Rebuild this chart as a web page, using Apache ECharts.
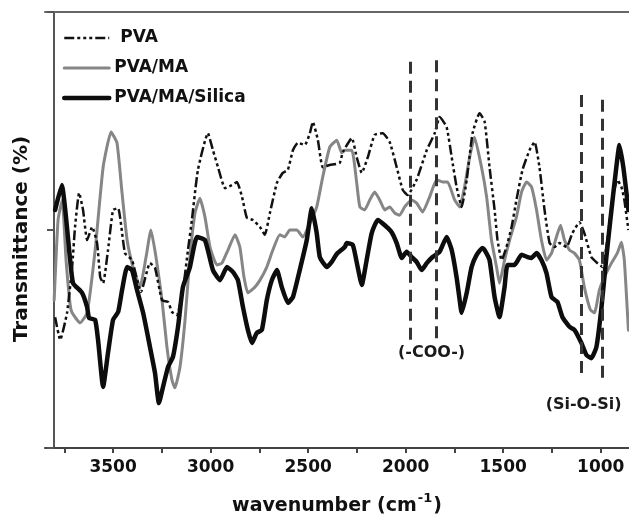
<!DOCTYPE html>
<html>
<head>
<meta charset="utf-8">
<script src="https://cdn.jsdelivr.net/npm/echarts@6/dist/echarts.min.js"></script>
<style>
  html, body { margin: 0; padding: 0; background: #fff; }
  #chart { width: 629px; height: 520px; }
</style>
</head>
<body>
<div id="chart"></div>
<script>
// FTIR spectra: [wavenumber (cm-1), transmittance (arb. %)]
const pvaPoints = [
  [3797,30.0],[3771,24.8],[3736,31.0],[3710,41.5],[3695,50.7],[3674,58.5],[3654,54.6],[3633,47.7],
  [3607,50.7],[3582,47.0],[3566,39.2],[3551,37.8],[3526,45.4],[3500,54.6],[3474,55.0],[3439,44.7],
  [3403,43.1],[3357,35.8],[3311,42.4],[3285,41.3],[3249,33.9],[3218,33.5],[3198,31.2],[3173,30.5],
  [3142,36.2],[3116,45.4],[3096,52.3],[3065,63.8],[3014,72.2],[2988,68.3],[2962,64.4],[2926,59.6],
  [2891,60.3],[2865,61.0],[2839,57.6],[2814,52.8],[2783,52.3],[2747,50.7],[2722,48.9],[2696,53.9],
  [2660,60.8],[2630,63.1],[2604,63.8],[2578,68.3],[2553,70.0],[2517,69.5],[2491,72.2],[2476,74.8],
  [2450,70.6],[2425,64.4],[2389,64.9],[2338,65.4],[2322,67.9],[2276,71.1],[2251,66.7],[2225,63.1],
  [2194,66.7],[2159,71.8],[2118,72.2],[2082,70.2],[2046,64.4],[2015,59.2],[1990,58.0],[1944,61.5],
  [1892,68.3],[1851,72.2],[1826,75.9],[1790,73.6],[1764,66.7],[1739,59.9],[1713,55.3],[1687,61.5],
  [1657,72.2],[1621,76.8],[1595,74.8],[1570,64.4],[1544,54.6],[1529,47.7],[1508,43.1],[1483,46.1],
  [1457,50.7],[1432,56.9],[1401,63.8],[1365,68.3],[1339,70.2],[1314,64.4],[1288,54.6],[1262,47.0],
  [1237,46.1],[1211,47.0],[1175,46.1],[1145,49.3],[1109,51.8],[1084,49.3],[1048,43.8],[1017,42.4],
  [991,41.5],[966,47.7],[940,56.9],[915,61.5],[894,59.9],[879,56.9],[858,50.0]
];

const pvaMaPoints = [
  [3802,33.9],[3782,52.3],[3761,56.9],[3741,43.1],[3720,32.8],[3710,31.0],[3669,28.7],[3633,31.0],
  [3592,45.4],[3551,64.4],[3510,72.5],[3480,70.0],[3454,58.5],[3428,47.7],[3398,41.5],[3362,36.9],
  [3331,43.8],[3306,50.0],[3280,43.8],[3249,33.9],[3224,23.2],[3198,15.6],[3183,13.8],[3157,18.6],
  [3131,29.4],[3106,43.8],[3080,53.9],[3055,57.3],[3029,53.0],[3003,46.1],[2968,42.0],[2942,42.4],
  [2911,45.4],[2875,48.9],[2850,46.1],[2829,39.2],[2809,35.6],[2773,36.9],[2747,38.5],[2712,41.5],
  [2681,45.4],[2645,48.9],[2620,48.4],[2594,50.0],[2558,50.0],[2527,48.4],[2491,51.6],[2456,55.3],
  [2425,62.2],[2389,69.0],[2353,70.6],[2328,67.7],[2312,68.3],[2276,68.3],[2251,60.8],[2235,55.3],
  [2210,54.6],[2184,56.9],[2159,58.7],[2133,56.9],[2107,54.6],[2082,55.3],[2056,53.9],[2031,53.4],
  [2005,55.3],[1969,56.9],[1944,56.2],[1913,54.1],[1877,57.6],[1841,61.5],[1810,61.0],[1785,61.0],
  [1749,56.9],[1723,55.3],[1698,59.9],[1672,66.7],[1647,71.3],[1611,64.4],[1585,57.6],[1560,47.7],
  [1534,41.5],[1519,37.8],[1493,43.1],[1467,47.7],[1432,53.0],[1406,58.7],[1380,61.0],[1355,59.9],
  [1329,54.6],[1304,47.7],[1278,43.1],[1252,44.7],[1227,48.4],[1206,51.1],[1186,47.7],[1160,45.4],
  [1135,44.7],[1109,43.1],[1084,36.9],[1053,31.7],[1032,31.0],[1007,36.2],[981,39.2],[945,42.4],
  [915,44.7],[894,47.2],[879,43.1],[863,31.0],[858,27.0]
];

const pvaMaSilicaPoints = [
  [3797,54.6],[3763,60.3],[3720,43.1],[3705,37.8],[3659,35.6],[3633,32.3],[3623,29.8],[3592,29.4],
  [3577,24.8],[3551,14.0],[3526,21.8],[3500,29.4],[3474,31.2],[3454,36.2],[3428,41.5],[3403,40.8],
  [3377,36.2],[3346,31.0],[3311,23.2],[3285,17.2],[3265,10.3],[3244,14.0],[3218,18.6],[3193,20.9],
  [3167,27.8],[3142,36.9],[3106,41.5],[3070,48.4],[3029,47.7],[2988,40.8],[2952,38.5],[2916,41.5],
  [2886,40.4],[2860,38.5],[2834,32.3],[2809,27.1],[2788,24.1],[2763,26.4],[2737,27.1],[2712,33.9],
  [2686,38.5],[2660,40.8],[2635,36.9],[2604,33.3],[2578,34.6],[2543,40.8],[2507,47.7],[2481,55.0],
  [2456,49.3],[2440,43.8],[2404,41.5],[2379,42.7],[2353,44.5],[2312,46.1],[2302,47.0],[2271,46.6],
  [2246,41.5],[2225,37.4],[2200,43.1],[2174,49.3],[2143,52.3],[2107,51.1],[2072,49.5],[2046,47.0],
  [2020,43.6],[1995,45.0],[1969,43.8],[1944,42.7],[1918,40.8],[1892,42.4],[1862,43.8],[1826,45.0],
  [1790,48.4],[1764,45.4],[1739,39.2],[1723,33.9],[1713,31.0],[1687,35.6],[1662,41.5],[1636,44.3],
  [1606,45.9],[1595,45.4],[1570,43.1],[1544,34.6],[1519,30.0],[1493,36.9],[1478,42.0],[1442,42.0],
  [1406,44.3],[1375,43.8],[1355,43.6],[1329,44.7],[1304,43.1],[1278,40.1],[1252,34.6],[1222,33.5],
  [1196,30.0],[1160,27.8],[1135,27.1],[1099,24.1],[1073,21.3],[1048,20.6],[1022,23.2],[996,32.3],
  [971,43.8],[945,54.6],[920,64.4],[904,69.5],[884,64.4],[868,58.5],[858,54.6]
];

// Axis ticks (every 250) and labelled values (every 500)
const wnTicks = [3750, 3500, 3250, 3000, 2750, 2500, 2250, 2000, 1750, 1500, 1250, 1000];
const wnLabels = [3500, 3000, 2500, 2000, 1500, 1000];

// Band markers: wavenumber and vertical extent in transmittance units
const cooLines = [[1974, 24.8, 89.0], [1841, 25.2, 89.4]];
const siosiLines = [[1100, 17.2, 82.1], [990, 16.1, 81.0]];
const bandLabels = [
  { name: '(-COO-)', wn: 1867, t: 21.8 },
  { name: '(Si-O-Si)', wn: 1088, t: 9.9 }
];

const FONT = 'DejaVu Sans';
const X_MIN = 855, X_MAX = 3849;

const chart = echarts.init(document.getElementById('chart'), null, { renderer: 'canvas' });

const markLineData = cooLines.concat(siosiLines).map(function (l) {
  return [{ coord: [l[0], l[1]] }, { coord: [l[0], l[2]] }];
});

const option = {
  animation: false,
  backgroundColor: '#ffffff',
  grid: { left: 45, right: 0, top: 12, bottom: 72, containLabel: false, outerBoundsMode: 'none' },
  legend: {
    data: ['PVA', 'PVA/MA', 'PVA/MA/Silica'],
    orient: 'vertical',
    left: 57,
    top: 23,
    itemWidth: 45,
    itemHeight: 14,
    itemGap: 10,
    selectedMode: false,
    itemStyle: { opacity: 0, borderWidth: 0 },
    lineStyle: { width: 'inherit', type: 'inherit' },
    formatter: function (name) { return name === 'PVA' ? ' ' + name : name; },
    textStyle: { fontFamily: FONT, fontWeight: 'bold', fontSize: 17, color: '#111', lineHeight: 20 }
  },
  xAxis: [{
    type: 'value',
    inverse: true,
    min: X_MIN,
    max: X_MAX,
    position: 'bottom',
    name: '{a|wavenumber (cm}{s|-1}{a|)}',
    nameLocation: 'middle',
    nameGap: 44,
    nameTextStyle: {
      rich: {
        a: { fontFamily: FONT, fontWeight: 'bold', fontSize: 19, color: '#111', lineHeight: 24, verticalAlign: 'bottom' },
        s: { fontFamily: FONT, fontWeight: 'bold', fontSize: 13, color: '#111', lineHeight: 24, verticalAlign: 'top', padding: [0, 1, 8, 1] }
      }
    },
    splitLine: { show: false },
    axisLine: { show: true, lineStyle: { color: '#444', width: 2 } },
    axisTick: { show: true, inside: false, length: 5, customValues: wnTicks, lineStyle: { color: '#444', width: 2 } },
    axisLabel: {
      show: true, customValues: wnLabels, margin: 11,
      formatter: function (v) { return String(v); },
      fontFamily: FONT, fontWeight: 'bold', fontSize: 17, color: '#111'
    }
  }, {
    type: 'value',
    inverse: true,
    min: X_MIN,
    max: X_MAX,
    position: 'top',
    splitLine: { show: false },
    axisLine: { show: true, lineStyle: { color: '#666', width: 2 } },
    axisTick: { show: false },
    axisLabel: { show: false }
  }],
  yAxis: {
    type: 'value',
    min: 0,
    max: 100,
    interval: 50,
    offset: -9,
    name: 'Transmittance (%)',
    nameLocation: 'middle',
    nameGap: 22,
    nameTextStyle: { fontFamily: FONT, fontWeight: 'bold', fontSize: 20, color: '#111', padding: [0, 0, 0, -18] },
    splitLine: { show: false },
    axisLine: { show: true, lineStyle: { color: '#555', width: 2 } },
    axisTick: { show: true, inside: false, length: 7, lineStyle: { color: '#555', width: 2 } },
    axisLabel: { show: false }
  },
  series: [
    {
      name: 'PVA/MA',
      type: 'line',
      data: pvaMaPoints,
      symbol: 'none',
      smooth: 0.15,
      lineStyle: { color: '#868686', width: 3, join: 'round', cap: 'round' },
      itemStyle: { color: '#868686' },
      z: 2
    },
    {
      name: 'PVA/MA/Silica',
      type: 'line',
      data: pvaMaSilicaPoints,
      symbol: 'none',
      smooth: 0.15,
      lineStyle: { color: '#0d0d0d', width: 4.5, join: 'round', cap: 'round' },
      itemStyle: { color: '#0d0d0d' },
      z: 3
    },
    {
      name: 'PVA',
      type: 'line',
      data: pvaPoints,
      symbol: 'none',
      smooth: 0.15,
      lineStyle: { color: '#111', width: 2.5, type: [10, 3, 3, 3, 3, 3, 3, 3] },
      itemStyle: { color: '#111' },
      z: 4
    },
    {
      name: 'bands',
      type: 'line',
      data: [],
      symbol: 'none',
      silent: true,
      z: 5,
      markLine: {
        silent: true,
        symbol: ['none', 'none'],
        label: { show: false },
        lineStyle: { color: '#333', width: 3, type: [12, 7] },
        data: markLineData
      },
      markPoint: {
        silent: true,
        symbol: 'circle',
        symbolSize: 1,
        itemStyle: { color: 'rgba(0,0,0,0)' },
        label: {
          show: true, position: 'inside', formatter: '{b}',
          fontFamily: FONT, fontWeight: 'bold', fontSize: 16, color: '#1a1a1a'
        },
        data: bandLabels.map(function (b) { return { name: b.name, coord: [b.wn, b.t] }; })
      }
    }
  ]
};

chart.setOption(option);
</script>
</body>
</html>
